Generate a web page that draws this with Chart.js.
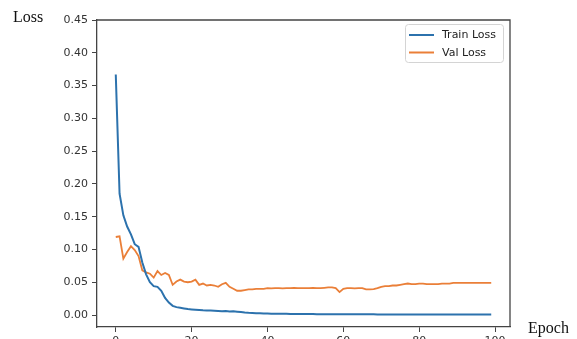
<!DOCTYPE html>
<html>
<head>
<meta charset="utf-8">
<script src="https://cdn.jsdelivr.net/npm/chart.js@4.4.1/dist/chart.umd.min.js"></script>
<style>
  html, body { margin: 0; padding: 0; background: #fff; overflow: hidden; }
  #wrap { width: 577px; height: 339px; overflow: hidden; }
</style>
</head>
<body>
<div id="wrap"><canvas id="loss" width="577" height="350"></canvas></div>
<script>
// training history, one value per epoch
const epochs = Array.from({ length: 100 }, (_, i) => i);

const trainLoss = [
  0.367, 0.185, 0.152, 0.135, 0.123, 0.108, 0.104, 0.080, 0.062, 0.050,
  0.044, 0.043, 0.037, 0.026, 0.019, 0.014, 0.012, 0.011, 0.010, 0.009,
  0.0085, 0.008, 0.0076, 0.0072, 0.007, 0.0068, 0.0066, 0.0062, 0.0058, 0.006,
  0.0055, 0.0056, 0.005, 0.0045, 0.0038, 0.0033, 0.003, 0.0028, 0.0026, 0.0024,
  0.0022, 0.0021, 0.002, 0.0019, 0.0018, 0.0018, 0.0017, 0.0016, 0.0016, 0.0015,
  0.0015, 0.0014, 0.0014, 0.0013, 0.0013, 0.0013, 0.0012, 0.0012, 0.0012, 0.0011,
  0.0011, 0.0011, 0.0011, 0.001, 0.001, 0.001, 0.001, 0.001, 0.001, 0.0009,
  0.0009, 0.0009, 0.0009, 0.0009, 0.0009, 0.0009, 0.0008, 0.0008, 0.0008, 0.0008,
  0.0008, 0.0008, 0.0008, 0.0008, 0.0008, 0.0007, 0.0007, 0.0007, 0.0007, 0.0007,
  0.0007, 0.0007, 0.0007, 0.0007, 0.0007, 0.0007, 0.0007, 0.0007, 0.0007, 0.0007
];

const valLoss = [
  0.119, 0.120, 0.086, 0.096, 0.105, 0.099, 0.090, 0.068, 0.065, 0.063,
  0.057, 0.067, 0.061, 0.064, 0.061, 0.046, 0.051, 0.054, 0.051, 0.050,
  0.051, 0.054, 0.046, 0.048, 0.045, 0.046, 0.045, 0.043, 0.047, 0.049,
  0.043, 0.040, 0.037, 0.037, 0.038, 0.039, 0.039, 0.040, 0.040, 0.040,
  0.041, 0.0405, 0.041, 0.041, 0.0405, 0.041, 0.041, 0.0415, 0.041, 0.041,
  0.041, 0.041, 0.0415, 0.041, 0.041, 0.0415, 0.042, 0.042, 0.041, 0.035,
  0.040, 0.041, 0.041, 0.0405, 0.041, 0.041, 0.039, 0.039, 0.0395, 0.041,
  0.043, 0.044, 0.044, 0.045, 0.045, 0.046, 0.047, 0.048, 0.047, 0.047,
  0.048, 0.048, 0.047, 0.047, 0.047, 0.047, 0.048, 0.048, 0.048, 0.049,
  0.049, 0.049, 0.049, 0.049, 0.049, 0.049, 0.049, 0.049, 0.049, 0.049
];

const xTicks = [0, 20, 40, 60, 80, 100];
const yTicks = [0, 0.05, 0.10, 0.15, 0.20, 0.25, 0.30, 0.35, 0.40, 0.45];

const BLUE = '#2c72ad';
const ORANGE = '#ea7f38';
const AXIS = '#444';

// top and right spines, axis titles and the boxed legend
const frame = {
  id: 'frame',
  afterDraw(chart) {
    const { ctx, chartArea: a } = chart;
    ctx.save();
    ctx.strokeStyle = AXIS;
    ctx.lineWidth = 1.3;
    ctx.beginPath();
    ctx.moveTo(a.left, a.top);
    ctx.lineTo(a.right, a.top);
    ctx.lineTo(a.right, a.bottom);
    ctx.stroke();

    ctx.fillStyle = '#111';
    ctx.font = '16px "Liberation Serif", "Times New Roman", serif';
    ctx.textBaseline = 'alphabetic';
    ctx.textAlign = 'left';
    ctx.fillText('Loss', 13, 22);
    ctx.fillText('Epoch', 528, 333);

    // legend
    const bx = 405, by = 24, bw = 98, bh = 38, r = 3;
    ctx.fillStyle = 'rgba(255,255,255,0.85)';
    ctx.strokeStyle = '#d4d4d4';
    ctx.lineWidth = 1;
    ctx.beginPath();
    ctx.roundRect(bx + 0.5, by + 0.5, bw, bh, r);
    ctx.fill();
    ctx.stroke();
    ctx.font = '11px "DejaVu Sans", sans-serif';
    ctx.textBaseline = 'middle';
    chart.data.datasets.forEach((ds, i) => {
      const y = 35 + i * 17.5;
      ctx.strokeStyle = ds.borderColor;
      ctx.lineWidth = 2;
      ctx.beginPath();
      ctx.moveTo(409, y);
      ctx.lineTo(434, y);
      ctx.stroke();
      ctx.fillStyle = '#222';
      ctx.fillText(ds.label, 442, y + 0.5);
    });
    ctx.restore();
  }
};

const axisTicks = (list) => (scale) => { scale.ticks = list.map(v => ({ value: v })); };

new Chart(document.getElementById('loss'), {
  type: 'line',
  data: {
    datasets: [
      {
        label: 'Train Loss',
        data: epochs.map((e, i) => ({ x: e, y: trainLoss[i] })),
        borderColor: BLUE,
        borderWidth: 2,
        pointRadius: 0,
        tension: 0
      },
      {
        label: 'Val Loss',
        data: epochs.map((e, i) => ({ x: e, y: valLoss[i] })),
        borderColor: ORANGE,
        borderWidth: 1.8,
        pointRadius: 0,
        tension: 0
      }
    ]
  },
  options: {
    responsive: false,
    animation: false,
    layout: { padding: { left: 0, top: 20, right: 67, bottom: 0 } },
    plugins: { legend: { display: false }, tooltip: { enabled: false } },
    scales: {
      x: {
        type: 'linear',
        min: -4.95,
        max: 103.95,
        afterBuildTicks: axisTicks(xTicks),
        afterFit: (s) => { s.height = 23; },
        grid: { drawOnChartArea: false, tickLength: 5, tickColor: AXIS, tickWidth: 1 },
        border: { color: AXIS, width: 1.3 },
        ticks: {
          padding: 3,
          color: '#333',
          font: { family: 'DejaVu Sans', size: 11 },
          maxRotation: 0,
          callback: (v) => String(v)
        }
      },
      y: {
        min: -0.0183,
        max: 0.45,
        afterBuildTicks: axisTicks(yTicks),
        afterFit: (s) => { s.width = 97; },
        grid: { drawOnChartArea: false, tickLength: 5, tickColor: AXIS, tickWidth: 1 },
        border: { color: AXIS, width: 1.3 },
        ticks: {
          padding: 4,
          color: '#333',
          font: { family: 'DejaVu Sans', size: 11 },
          callback: (v) => v.toFixed(2)
        }
      }
    }
  },
  plugins: [frame]
});
</script>
</body>
</html>
